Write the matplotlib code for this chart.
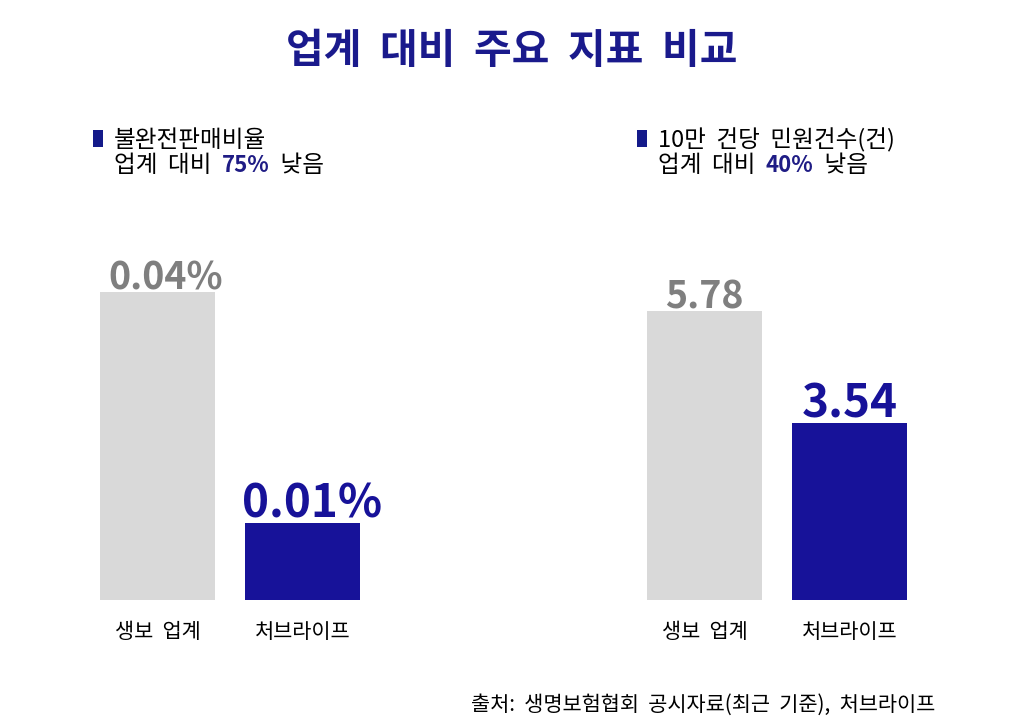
import matplotlib
matplotlib.use('Agg')
import matplotlib.pyplot as plt
from matplotlib.offsetbox import TextArea, HPacker, AnnotationBbox
from matplotlib.patches import Rectangle

plt.rcParams['font.family'] = ['Noto Sans CJK KR', 'DejaVu Sans']

# data
categories = ['생보  업계', '처브라이프']
misselling = [0.04, 0.01]
misselling_labels = ['0.04%', '0.01%']
complaints = [5.78, 3.54]
complaints_labels = ['5.78', '3.54']
headers = ['불완전판매비율', '10만  건당  민원건수(건)']
gaps = ['75%', '40%']
title = '업계  대비  주요  지표  비교'
source = '출처:  생명보험협회  공시자료(최근  기준),  처브라이프'

BLUE = '#171299'
GRAY = '#d9d9d9'
GRAY_TXT = '#7f7f7f'
W, H = 1023, 720

fig = plt.figure(figsize=(W / 100, H / 100), dpi=100)
fig.patch.set_facecolor('white')

def px(x, y):
    # pixel (from top-left) to figure fraction
    return x / W, 1 - y / H

fig.text(0.5, px(0, 63)[1], title, ha='center', va='baseline',
         fontsize=29.5, fontweight='bold', color='#1a1a8c')

def panel(left_px, ymax, values, labels, header, gap, hx, xoff):
    ax = fig.add_axes([left_px / W, 120 / H, 290 / W, 385 / H])
    x = range(len(values))
    bars = ax.bar(x, values, width=0.79, color=[GRAY, BLUE])
    ax.set_xlim(-0.5, 1.5)
    ax.set_ylim(0, ymax)
    for s in ax.spines.values():
        s.set_visible(False)
    ax.set_yticks([])
    ax.set_xticks(list(x))
    ax.set_xticklabels(categories, fontsize=15)
    ax.tick_params(axis='x', length=0, pad=15)
    styles = [(27, GRAY_TXT, 2), (33, BLUE, 4)]
    for i, (b, lab) in enumerate(zip(bars, labels)):
        fs, col, dy = styles[i]
        ax.annotate(lab, xy=(b.get_x() + b.get_width() / 2, b.get_height()),
                    xytext=(xoff[i], dy), textcoords='offset points',
                    ha='center', va='baseline', fontsize=fs,
                    fontweight='bold', color=col)
    # header with square marker
    sx, sy = px(hx - 21, 147)
    fig.patches.append(Rectangle((sx, sy), 10 / W, 17 / H, transform=fig.transFigure,
                                 facecolor='#141a8a', edgecolor='none'))
    fig.text(*px(hx, 147), header, ha='left', va='baseline', fontsize=17)
    parts = [TextArea('업계  대비  ', textprops=dict(fontsize=17)),
             TextArea(gap, textprops=dict(fontsize=16, fontweight='bold', color='#1f1c85')),
             TextArea('  낮음', textprops=dict(fontsize=17))]
    box = HPacker(children=parts, align='baseline', pad=0, sep=0)
    ab = AnnotationBbox(box, px(hx, 166), xycoords='figure fraction',
                        box_alignment=(0, 0.5), frameon=False, pad=0)
    fig.add_artist(ab)

panel(85, 0.05, misselling, misselling_labels, headers[0], gaps[0], 114, [6, 7])
panel(632, 7.7, complaints, complaints_labels, headers[1], gaps[1], 658, [0, 0])

fig.text(*px(935, 711), source, ha='right', va='baseline', fontsize=15)

fig.savefig('out.png', dpi=100, facecolor='white')
